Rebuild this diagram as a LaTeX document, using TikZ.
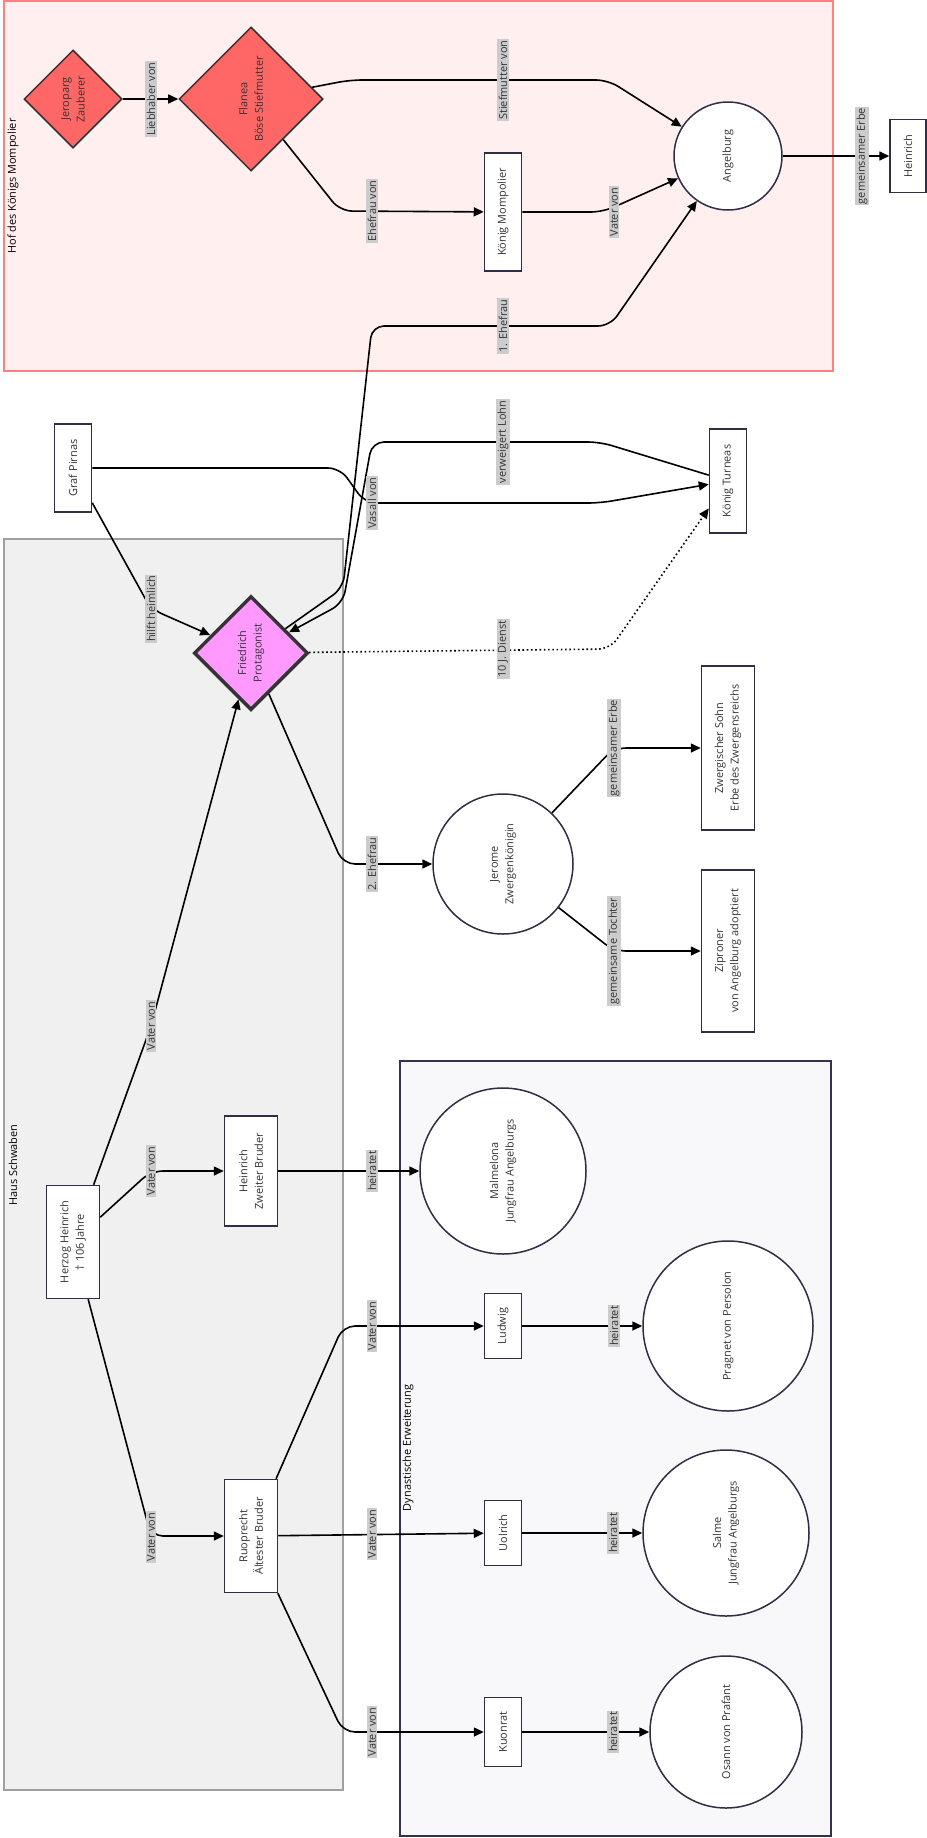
\documentclass[tikz,border=0pt]{standalone}
\usepackage{fontspec}
\setmainfont{Open Sans}
\usetikzlibrary{arrows.meta,shapes.geometric}

\newlength\upx \setlength\upx{0.75pt}
\definecolor{hofrand}{HTML}{FF8080}
\definecolor{hoffill}{HTML}{FFEFEF}
\definecolor{schwrand}{HTML}{A0A0A0}
\definecolor{schwfill}{HTML}{F0F0F0}
\definecolor{dynrand}{HTML}{33334D}
\definecolor{dynfill}{HTML}{F8F8FA}
\definecolor{rot}{HTML}{FF6666}
\definecolor{lila}{HTML}{FF99FF}
\definecolor{rand}{HTML}{2E2E45}
\definecolor{schrift}{HTML}{333333}

\begin{document}
\begin{tikzpicture}[x=0.75pt,y=-0.75pt,
  every node/.style={font=\fontsize{8.2}{11.5}\selectfont, text=schrift, align=center},
  person/.style 2 args={rectangle, draw=rand, fill=white, line width=1.5\upx, rotate=90, inner sep=0pt, minimum width=#1\upx, minimum height=#2\upx},
  rund/.style={circle, draw=rand, fill=white, line width=1.5\upx, rotate=90, inner sep=0pt, minimum size=#1\upx},
  raute/.style={diamond, aspect=1, draw=schrift, line width=1.5\upx, rotate=90, inner sep=0pt, minimum size=#1\upx},
  lbl/.style={fill=black!20, rotate=90, sharp corners, inner xsep=1pt, inner ysep=1.1pt},
  verb/.style={draw=black, line width=1.2pt, rounded corners=9pt, -{Triangle[length=7.5pt,width=6.75pt]}},
  gruppe/.style={line width=1.1pt}]

\useasboundingbox (0,0) rectangle (926,1838);

% Gruppen (Hintergrund)
\draw[gruppe, draw=hofrand, fill=hoffill] (4,1) rectangle (833,371);
\node[rotate=90, text=black] (hof) at (13,186) {Hof des Königs Mompolier};
\draw[gruppe, draw=schwrand, fill=schwfill] (4,539) rectangle (343,1790);
\node[rotate=90, text=black] (schwaben) at (13,1165) {Haus Schwaben};
\draw[gruppe, draw=dynrand, fill=dynfill] (400,1061) rectangle (831,1836);
\node[rotate=90, text=black] (dynastie) at (408,1448) {Dynastische Erweiterung};

% Personen am Hof
\node[raute=98, fill=rot] (jeroparg) at (73,99) {Jeroparg\\Zauberer};
\node[raute=144, fill=rot] (flanea) at (251,99) {Flanea\\Böse Stiefmutter};
\node[person={118}{37}] (mompolier) at (503,212) {König Mompolier};
\node[rund=108] (angelburg) at (728,156) {Angelburg};
\node[person={73}{36}] (heinrichE) at (908,156) {Heinrich};

% Friedrich und sein Umfeld
\node[person={88}{37}] (pirnas) at (73,468) {Graf Pirnas};
\node[person={104}{37}] (turneas) at (728,481) {König Turneas};
\node[raute=114, fill=lila, line width=3.5\upx] (friedrich) at (251,653) {Friedrich\\Protagonist};
\node[rund=140] (jerome) at (503,864) {Jerome\\Zwergenkönigin};
\node[person={164}{53}] (zsohn) at (728,748) {Zwergischer Sohn\\Erbe des Zwergensreichs};
\node[person={162}{53}] (ziproner) at (728,951) {Ziproner\\von Angelburg adoptiert};

% Haus Schwaben und Erweiterung
\node[person={113}{53}] (herzog) at (73,1242) {Herzog Heinrich\\† 106 Jahre};
\node[person={110}{53}] (heinrichZ) at (251,1171) {Heinrich\\Zweiter Bruder};
\node[person={113}{53}] (ruoprecht) at (251,1536) {Ruoprecht\\Ältester Bruder};
\node[rund=166] (malmelona) at (503,1171) {Malmelona\\Jungfrau Angelburgs};
\node[person={65}{37}] (ludwig) at (503,1326) {Ludwig};
\node[rund=170] (pragnet) at (728,1326) {Pragnet von Persolon};
\node[person={65}{37}] (uolrich) at (503,1533) {Uolrich};
\node[rund=166] (salme) at (726,1533) {Salme\\Jungfrau Angelburgs};
\node[person={69}{37}] (kuonrat) at (503,1732) {Kuonrat};
\node[rund=152] (osann) at (726,1732) {Osann von Prafant};

% Beziehungen, Beschriftung jeweils mittig auf der Linie
\draw[verb] (jeroparg) -- (flanea) node[lbl] at (151,99) {Liebhaber von};
\draw[verb] (flanea) -- (350,80) -- (608,80) -- (angelburg) node[lbl] at (503,80) {Stiefmutter von};
\draw[verb] (flanea) -- (340,211) -- (mompolier) node[lbl] at (372,211) {Ehefrau von};
\draw[verb] (mompolier) -- (603,212) -- (angelburg) node[lbl] at (614,212) {Vater von};
\draw[verb] (angelburg) -- (heinrichE) node[lbl] at (862,156) {gemeinsamer Erbe};
\draw[verb] (friedrich) -- (343,588) -- (372,326) -- (610,326) -- (angelburg) node[lbl] at (503,326) {1. Ehefrau};
\draw[verb] (turneas) -- (600,442) -- (372,442) -- (343,603) -- (friedrich) node[lbl] at (503,442) {verweigert Lohn};
\draw[verb] (pirnas) -- (340,468) -- (365,503) -- (600,503) -- (turneas) node[lbl] at (372,503) {Vasall von};
\draw[verb, dotted] (friedrich) -- (610,649) -- (turneas) node[lbl] at (503,649) {10 J. Dienst}; % gepunktet
\draw[verb] (pirnas) -- (151,609) -- (friedrich) node[lbl] at (151,609) {hilft heimlich};
\draw[verb] (herzog) -- (151,1026) -- (friedrich) node[lbl] at (151,1026) {Vater von};
\draw[verb] (herzog) -- (151,1171) -- (heinrichZ) node[lbl] at (151,1171) {Vater von};
\draw[verb] (herzog) -- (151,1536) -- (ruoprecht) node[lbl] at (151,1537) {Vater von};
\draw[verb] (heinrichZ) -- (malmelona) node[lbl] at (372,1171) {heiratet};
\draw[verb] (friedrich) -- (343,864) -- (jerome) node[lbl] at (372,864) {2. Ehefrau};
\draw[verb] (jerome) -- (614,748) -- (zsohn) node[lbl] at (614,748) {gemeinsamer Erbe};
\draw[verb] (jerome) -- (614,951) -- (ziproner) node[lbl] at (614,951) {gemeinsame Tochter};
\draw[verb] (ruoprecht) -- (343,1326) -- (ludwig) node[lbl] at (372,1326) {Vater von};
\draw[verb] (ruoprecht) -- (uolrich) node[lbl] at (372,1534) {Vater von};
\draw[verb] (ruoprecht) -- (343,1732) -- (kuonrat) node[lbl] at (372,1732) {Vater von};
\draw[verb] (ludwig) -- (pragnet) node[lbl] at (614,1326) {heiratet};
\draw[verb] (uolrich) -- (salme) node[lbl] at (613,1533) {heiratet};
\draw[verb] (kuonrat) -- (osann) node[lbl] at (613,1732) {heiratet};
\end{tikzpicture}
\end{document}
